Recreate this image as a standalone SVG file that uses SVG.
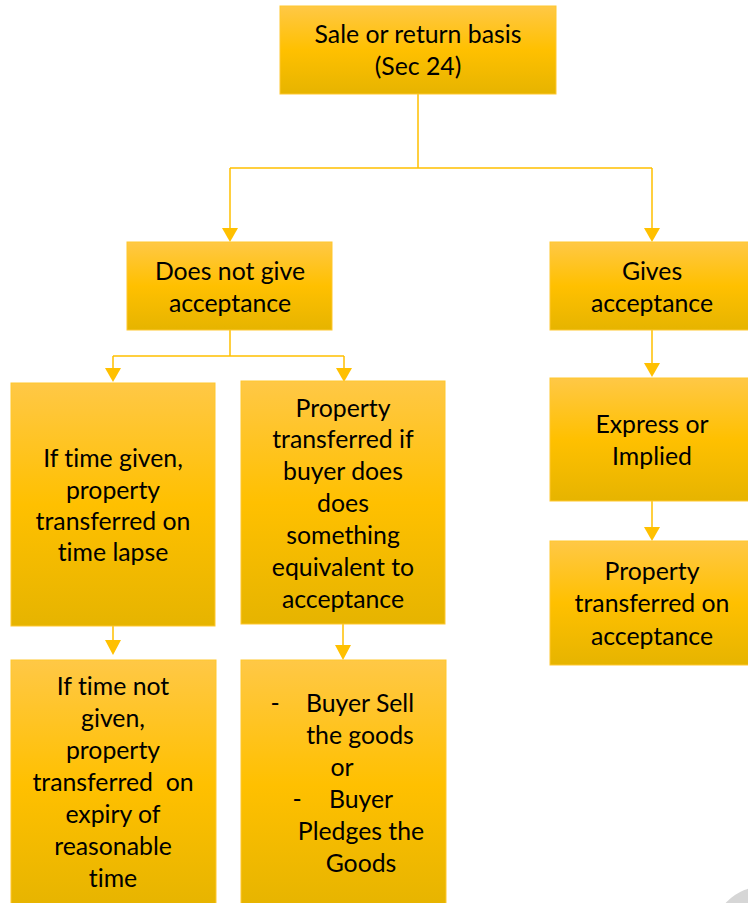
<svg xmlns="http://www.w3.org/2000/svg" width="748" height="903" viewBox="0 0 748 903">
  <defs>
    <linearGradient id="boxFill" x1="0" y1="0" x2="0" y2="1">
      <stop offset="0" stop-color="#ffc846"/>
      <stop offset="0.5" stop-color="#ffc000"/>
      <stop offset="1" stop-color="#e6b400"/>
    </linearGradient>
  </defs>
  <style>
    .box { fill: url(#boxFill); stroke: #ffc72e; stroke-width: 1; }
    .lbl { font-family: Lato, "Open Sans", "Liberation Sans", sans-serif; font-size: 24.8px; fill: #000; text-anchor: middle; white-space: pre; font-variant-ligatures: none; font-feature-settings: "liga" 0; }
    .wire { fill: none; stroke: #ffc000; stroke-width: 1.5; }
    .head { fill: #ffc000; }
  </style>
  <rect width="748" height="903" fill="#fff"/>

  <g id="connectors">
    <path class="wire" d="M418,94 V168 M230,168 H652 M230,168 V230 M652,168 V230"/>
    <path class="wire" d="M230,330 V356 M113,356 H344 M113,356 V370 M344,356 V370"/>
    <path class="wire" d="M113,626 V642 M343,624 V646"/>
    <path class="wire" d="M652,330 V364 M652,501 V528"/>
    <path class="head" d="M222,228 L238,228 L230,242 Z"/>
    <path class="head" d="M644,228 L660,228 L652,242 Z"/>
    <path class="head" d="M105,368 L121,368 L113,382 Z"/>
    <path class="head" d="M336,368 L352,368 L344,382 Z"/>
    <path class="head" d="M105,640 L121,640 L113,655 Z"/>
    <path class="head" d="M335,645 L351,645 L343,660 Z"/>
    <path class="head" d="M644,363 L660,363 L652,377 Z"/>
    <path class="head" d="M644,527 L660,527 L652,541 Z"/>
  </g>

  <g id="sale-or-return">
    <rect class="box" x="280" y="6" width="276" height="88"/>
    <text class="lbl" x="418" y="43">Sale or return basis</text>
    <text class="lbl" x="418" y="75">(Sec 24)</text>
  </g>

  <g id="no-acceptance">
    <rect class="box" x="127" y="242" width="205" height="88"/>
    <text class="lbl" x="230" y="280">Does not give</text>
    <text class="lbl" x="230" y="312">acceptance</text>
  </g>

  <g id="gives-acceptance">
    <rect class="box" x="550" y="242" width="204" height="88"/>
    <text class="lbl" x="652" y="280">Gives</text>
    <text class="lbl" x="652" y="312">acceptance</text>
  </g>

  <g id="time-given">
    <rect class="box" x="11" y="383" width="204" height="243"/>
    <text class="lbl" x="113" y="467">If time given,</text>
    <text class="lbl" x="113" y="499">property</text>
    <text class="lbl" x="113" y="530">transferred on</text>
    <text class="lbl" x="113" y="561">time lapse</text>
  </g>

  <g id="equivalent-act">
    <rect class="box" x="241" y="381" width="204" height="243"/>
    <text class="lbl" x="343" y="417">Property</text>
    <text class="lbl" x="343" y="448">transferred if</text>
    <text class="lbl" x="343" y="480">buyer does</text>
    <text class="lbl" x="343" y="512">does</text>
    <text class="lbl" x="343" y="544">something</text>
    <text class="lbl" x="343" y="576">equivalent to</text>
    <text class="lbl" x="343" y="608">acceptance</text>
  </g>

  <g id="express-implied">
    <rect class="box" x="550" y="378" width="204" height="123"/>
    <text class="lbl" x="652" y="433">Express or</text>
    <text class="lbl" x="652" y="465">Implied</text>
  </g>

  <g id="on-acceptance">
    <rect class="box" x="550" y="541" width="204" height="124"/>
    <text class="lbl" x="652" y="580">Property</text>
    <text class="lbl" x="652" y="612">transferred on</text>
    <text class="lbl" x="652" y="645">acceptance</text>
  </g>

  <g id="time-not-given">
    <rect class="box" x="11" y="660" width="205" height="250"/>
    <text class="lbl" x="113" y="695">If time not</text>
    <text class="lbl" x="113" y="727">given,</text>
    <text class="lbl" x="113" y="759">property</text>
    <text class="lbl" x="113" y="791">transferred  on</text>
    <text class="lbl" x="113" y="823">expiry of</text>
    <text class="lbl" x="113" y="855">reasonable</text>
    <text class="lbl" x="113" y="887">time</text>
  </g>

  <g id="sell-or-pledge">
    <rect class="box" x="241" y="660" width="205" height="250"/>
    <text class="lbl" x="275" y="712">-</text>
    <text class="lbl" x="360" y="712">Buyer Sell</text>
    <text class="lbl" x="360" y="744">the goods</text>
    <text class="lbl" x="342" y="776">or</text>
    <text class="lbl" x="297" y="808">-</text>
    <text class="lbl" x="361" y="808">Buyer</text>
    <text class="lbl" x="361" y="840">Pledges the</text>
    <text class="lbl" x="361" y="872">Goods</text>
  </g>

  <!-- grey disc clipped by the lower right corner -->
  <circle cx="765" cy="940" r="54" fill="#d6d6d6"/>
</svg>
